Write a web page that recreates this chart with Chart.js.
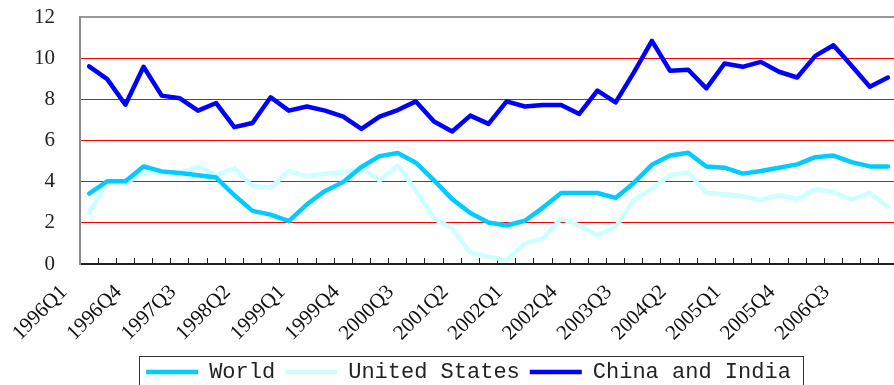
<!DOCTYPE html>
<html>
<head>
<meta charset="utf-8">
<script src="https://cdn.jsdelivr.net/npm/chart.js@4/dist/chart.umd.min.js"></script>
<style>
	html, body { margin: 0; padding: 0; background: #fff; overflow: hidden; }
	#wrap { width: 897px; height: 393px; }
</style>
</head>
<body>
<div id="wrap"><canvas id="growthChart" width="897" height="393"></canvas></div>
<script>
// quarterly growth, 1996Q1 - 2007Q1
const quarters = [
	'1996Q1','1996Q2','1996Q3','1996Q4','1997Q1','1997Q2','1997Q3','1997Q4',
	'1998Q1','1998Q2','1998Q3','1998Q4','1999Q1','1999Q2','1999Q3','1999Q4',
	'2000Q1','2000Q2','2000Q3','2000Q4','2001Q1','2001Q2','2001Q3','2001Q4',
	'2002Q1','2002Q2','2002Q3','2002Q4','2003Q1','2003Q2','2003Q3','2003Q4',
	'2004Q1','2004Q2','2004Q3','2004Q4','2005Q1','2005Q2','2005Q3','2005Q4',
	'2006Q1','2006Q2','2006Q3','2006Q4','2007Q1'
];

const world = [
	3.42, 4.02, 4.02, 4.74, 4.5, 4.42, 4.31, 4.2, 3.34, 2.58, 2.4, 2.08,
	2.9, 3.55, 3.98, 4.71, 5.24, 5.39, 4.92, 4.06, 3.15, 2.48, 2.02, 1.87,
	2.1, 2.74, 3.45, 3.45, 3.45, 3.21, 3.94, 4.82, 5.27, 5.4, 4.74, 4.68,
	4.39, 4.52, 4.68, 4.84, 5.19, 5.27, 4.95, 4.74, 4.74
];

const unitedStates = [
	2.48, 3.98, 3.94, 4.42, 4.47, 4.39, 4.74, 4.31, 4.66, 3.79, 3.71, 4.52,
	4.26, 4.39, 4.44, 4.68, 4.06, 4.79, 3.58, 2.21, 1.73, 0.55, 0.35, 0.19,
	1.0, 1.24, 2.21, 1.86, 1.4, 1.81, 3.1, 3.66, 4.31, 4.44, 3.45, 3.39,
	3.29, 3.1, 3.34, 3.15, 3.63, 3.5, 3.13, 3.45, 2.77
];

const chinaIndia = [
	9.6, 8.98, 7.74, 9.58, 8.18, 8.05, 7.45, 7.82, 6.65, 6.85, 8.1, 7.45,
	7.65, 7.45, 7.16, 6.56, 7.16, 7.48, 7.9, 6.92, 6.44, 7.21, 6.81, 7.9,
	7.65, 7.73, 7.73, 7.29, 8.42, 7.85, 9.3, 10.84, 9.39, 9.44, 8.53, 9.74,
	9.58, 9.82, 9.34, 9.06, 10.11, 10.63, 9.63, 8.61, 9.06
];

const makeSet = (label, values, color) => ({
	label: label,
	data: values,
	borderColor: color,
	backgroundColor: color,
	borderWidth: 4.5,
	borderCapStyle: 'round',
	borderJoinStyle: 'round',
	pointRadius: 0,
	tension: 0
});

// nudge the legend row right a little and frame it
const legendFrame = {
	id: 'legendFrame',
	afterLayout(chart) {
		chart.legend.left += 20;
		chart.legend.right += 20;
	},
	afterDraw(chart) {
		const boxes = chart.legend.legendHitBoxes;
		if (!boxes || !boxes.length) return;
		const first = boxes[0];
		const last = boxes[boxes.length - 1];
		const ctx = chart.ctx;
		const cy = first.top + first.height / 2;
		ctx.save();
		ctx.strokeStyle = '#333';
		ctx.lineWidth = 1;
		ctx.strokeRect(Math.round(first.left - 7) + 0.5, Math.round(cy - 16) + 0.5,
			Math.round(last.left + last.width + 12 - (first.left - 7)), 60);
		ctx.restore();
	}
};

// keep the plot area fixed, no extra room asked for by the tick labels
const noPad = (scale) => {
	scale.paddingLeft = 0;
	scale.paddingRight = 0;
	scale.paddingTop = 0;
	scale.paddingBottom = 0;
};

const config = {
	type: 'line',
	data: {
		labels: quarters,
		datasets: [
			makeSet('World', world, '#00CCFF'),
			makeSet('United States', unitedStates, '#CCFFFF'),
			makeSet('China and India', chinaIndia, '#0000FF')
		]
	},
	options: {
		responsive: false,
		animation: false,
		layout: {
			padding: {left: 0, top: 17, right: 0, bottom: 0}
		},
		plugins: {
			tooltip: {enabled: false},
			legend: {
				position: 'bottom',
				labels: {
					usePointStyle: true,
					pointStyle: 'line',
					pointStyleWidth: 52,
					boxHeight: 5,
					padding: 10,
					color: '#222',
					font: {family: 'Liberation Mono', size: 22}
				}
			}
		},
		scales: {
			x: {
				offset: true,
				afterFit: (scale) => { scale.height = 87; noPad(scale); },
				border: {display: true, color: '#222', width: 2},
				grid: {
					offset: true,
					drawOnChartArea: false,
					drawTicks: true,
					tickLength: -6,
					color: '#222',
					lineWidth: 1
				},
				ticks: {
					autoSkip: false,
					maxRotation: 45,
					minRotation: 45,
					padding: 22,
					labelOffset: -25,
					color: '#111',
					font: {family: 'Liberation Serif', size: 21},
					callback: function(val, index) {
						return index % 3 === 0 ? this.getLabelForValue(val) : '';
					}
				}
			},
			y: {
				min: 0,
				max: 12,
				afterFit: (scale) => { scale.width = 80; noPad(scale); },
				border: {display: true, color: '#8c8c8c', width: 2},
				grid: {
					drawTicks: false,
					color: (c) => c.tick.value === 12 ? '#999' : (c.tick.value === 0 ? 'rgba(0,0,0,0)' : '#FF0000'),
					lineWidth: (c) => c.tick.value === 12 ? 2 : 1
				},
				ticks: {
					stepSize: 2,
					padding: 25,
					color: '#222',
					font: {family: 'Liberation Serif', size: 21}
				}
			}
		}
	},
	plugins: [legendFrame]
};

const ctx = document.getElementById('growthChart').getContext('2d');
const growthChart = new Chart(ctx, config);
</script>
</body>
</html>
